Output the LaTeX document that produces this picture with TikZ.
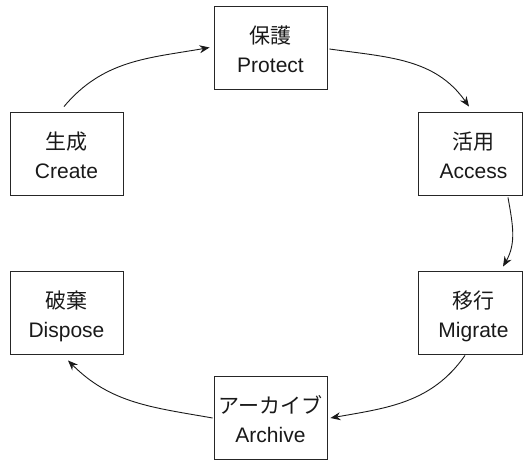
\documentclass[tikz,border=0pt]{standalone}
\usepackage{fontspec}
\setmainfont{Liberation Sans}
\newfontfamily\cjk{Noto Sans CJK JP}
\usetikzlibrary{arrows.meta}
\newcommand\twoline[2]{\rule{0pt}{27pt}{\cjk #1}\\#2\rule[-6pt]{0pt}{6pt}}
\tikzset{
  box/.style={draw=black!85, line width=0.9pt, minimum width=113pt, minimum height=83pt, inner sep=0pt},
  lbl/.style={align=center, inner sep=0pt, font=\fontsize{21}{29}\selectfont, text=black!90},
  flow/.style={line width=0.9pt, draw=black!90, -{Stealth[length=10pt,width=8pt]}},
}
\begin{document}
\begin{tikzpicture}[x=1pt,y=1pt]
\useasboundingbox (0,0) rectangle (523,460);
\node[box] (protect) at (270.5,412.5) {};
\node[box] (create) at (66.5,306.5) {};
\node[box, minimum width=104pt] (access) at (470,306.5) {};
\node[box] (dispose) at (66.5,147.5) {};
\node[box, minimum width=104pt] (migrate) at (470,147.5) {};
\node[box] (archive) at (270.5,42.5) {};
\node[lbl] (tprotect) at (protect.center) {\twoline{保護}{Protect}};
\node[lbl] (tcreate) at (create.center) {\twoline{生成}{Create}};
\node[lbl] (taccess) at ([xshift=3.5pt]access.center) {\twoline{活用}{Access}};
\node[lbl] (tdispose) at (dispose.center) {\twoline{破棄}{Dispose}};
\node[lbl] (tmigrate) at ([xshift=3.5pt]migrate.center) {\twoline{移行}{Migrate}};
\node[lbl] (tarchive) at (archive.center) {\twoline{アーカイブ}{Archive}};
\draw[flow] ([shift={(-2.5pt,5pt)}]create.north) to[out=50,in=190] ([xshift=-4pt]protect.west);
\draw[flow] ([shift={(2pt,-1.5pt)}]protect.east) to[out=-8,in=125] ([shift={(-1pt,5pt)}]access.north);
\draw[flow] ([shift={(38pt,-2pt)}]access.south) to[out=-80,in=60] ([shift={(33pt,4pt)}]migrate.north);
\draw[flow] ([shift={(-5pt,-1pt)}]migrate.south) to[out=-125,in=10] ([shift={(3pt,-0.5pt)}]archive.east);
\draw[flow] ([shift={(-1pt,-0.5pt)}]archive.west) to[out=170,in=-45] ([shift={(1.5pt,-6pt)}]dispose.south);
\end{tikzpicture}
\end{document}
